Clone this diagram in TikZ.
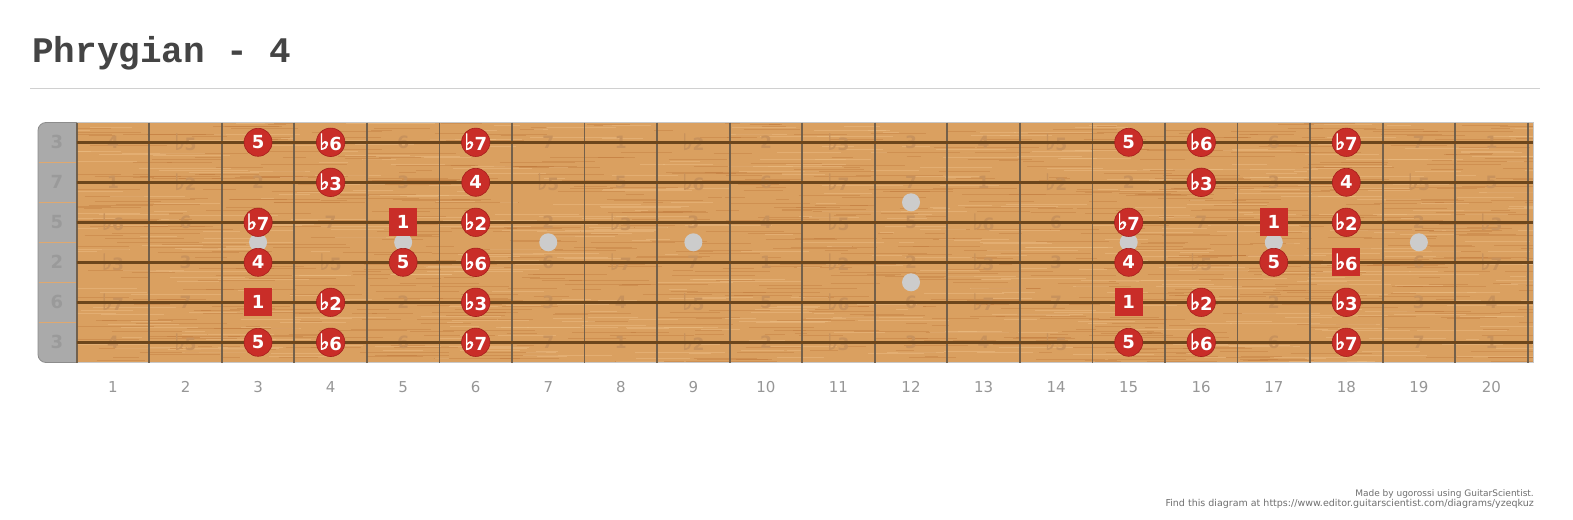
\documentclass[tikz,border=0pt]{standalone}
\usepackage{fontspec}
\setmonofont{Liberation Mono}
\newfontfamily\dejavu{DejaVu Sans}
\newfontfamily\flatfont[FakeBold=2.5]{DejaVu Sans Bold}
\definecolor{wood}{RGB}{218,160,96}
\definecolor{graindark}{RGB}{184,110,48}
\definecolor{grainlight}{RGB}{238,192,136}
\definecolor{stringc}{RGB}{108,70,28}
\definecolor{fretc}{RGB}{105,90,72}
\definecolor{faintc}{RGB}{200,146,92}
\definecolor{notered}{RGB}{201,45,40}
\definecolor{notedark}{RGB}{165,30,28}
\definecolor{inlayc}{RGB}{204,204,204}
\definecolor{nutgray}{RGB}{170,170,170}
\definecolor{nutedge}{RGB}{140,140,140}
\definecolor{nutlabel}{RGB}{154,154,154}
\definecolor{nutdiv}{RGB}{222,168,112}
\definecolor{fretnum}{RGB}{150,150,150}
\definecolor{titlegray}{RGB}{68,68,68}
\definecolor{rulegray}{RGB}{208,208,208}
\definecolor{boardedge}{RGB}{200,200,200}
\definecolor{creditc}{RGB}{110,110,110}
\newcommand\notefont{\dejavu\bfseries\fontsize{18}{18}\selectfont}
\newcommand\fl{\raisebox{1.2pt}{\flatfont\fontsize{22}{22}\selectfont ♭}\kern-0.3pt}
\newcommand\ivname[1]{\ifcase#1 1\or \fl2\or 2\or \fl3\or 3\or 4\or \fl5\or 5\or \fl6\or 6\or \fl7\or 7\fi}
\makeatletter
\newcommand\ifmember[2]{\edef\x@tmp{\noexpand\in@{,#1,}{,#2,}}\x@tmp\ifin@\expandafter\@firstoftwo\else\expandafter\@secondoftwo\fi}
\makeatother
\tikzset{
  notecirc/.style={circle, fill=notered, draw=notedark, line width=0.6, minimum size=28, inner sep=0, text=white, font=\notefont},
  notesq/.style={rectangle, fill=notered, minimum size=28, inner sep=0, text=white, font=\notefont},
  faint/.style={inner sep=0, text=faintc, font=\dejavu\bfseries\fontsize{17}{17}\selectfont},
  fretline/.style={draw=fretc, line width=1.8, opacity=0.9},
  stringline/.style={draw=stringc, line width=3},
  inlay/.style={circle, fill=inlayc, minimum size=18, inner sep=0},
  nutlab/.style={inner sep=0, text=nutlabel, font=\dejavu\bfseries\fontsize{18}{18}\selectfont},
  fretnumber/.style={inner sep=0, text=fretnum, font=\dejavu\fontsize{15}{15}\selectfont},
  credit/.style={inner sep=0, text=creditc, anchor=base east},
}
\begin{document}
\begin{tikzpicture}[x=1pt,y=-1pt]
\useasboundingbox (0,0) rectangle (1573,519);
% title and rule
\node[anchor=base west, inner sep=0, text=titlegray, font=\ttfamily\bfseries\fontsize{36}{36}\selectfont] (title) at (32,63) {Phrygian - 4};
\coordinate (ruleL) at (30,88);
\coordinate (ruleR) at (1540,88);
\draw[rulegray, line width=1] (ruleL) -- (ruleR);
% nut and board
\path[fill=nutgray, draw=nutedge, line width=0.8, rounded corners=8] (38,122.5) rectangle (90,362.5);
\fill[wood] (76.7,122.5) rectangle (1533,362.5);
\begin{scope}
  \clip (76.7,122.5) rectangle (1533,362.5);
  \pgfmathsetseed{4711}
  \foreach \i in {1,...,900}{
    \pgfmathsetmacro\gx{40+rnd*1500}
    \pgfmathsetmacro\gy{122+rnd*241}
    \pgfmathsetmacro\gl{12+rnd*80}
    \draw[graindark, line width=0.7, opacity=0.3] (\gx,\gy) -- ++(\gl,0);
  }
  \foreach \i in {1,...,600}{
    \pgfmathsetmacro\gx{40+rnd*1500}
    \pgfmathsetmacro\gy{122+rnd*241}
    \pgfmathsetmacro\gl{12+rnd*80}
    \draw[grainlight, line width=0.8, opacity=0.45] (\gx,\gy) -- ++(\gl,0);
  }
\end{scope}
\draw[boardedge, line width=1] (76.7,122.5) -- (1533,122.5) -- (1533,362.5) -- (76.7,362.5);
% nut dividers and labels
\foreach \k in {0,...,4}{
  \pgfmathsetmacro\yy{162.3+40*\k}
  \draw[nutdiv, line width=0.8] (39,\yy) -- (76.7,\yy);
}
\foreach \s/\t in {1/3,2/7,3/5,4/2,5/6,6/3}{
  \pgfmathsetmacro\yy{142.3+40*(\s-1)}
  \node[nutlab] (nut-\s) at (57,\yy) {\t};
}
% faint interval labels
\foreach \s/\open/\used in {1/4/{3,4,6,15,16,18}, 2/11/{4,6,16,18}, 3/7/{3,5,6,15,17,18}, 4/2/{3,5,6,15,17,18}, 5/9/{3,4,6,15,16,18}, 6/4/{3,4,6,15,16,18}}{
  \foreach \f in {1,...,20}{
    \ifmember{\f}{\used}{}{%
      \pgfmathtruncatemacro\iv{mod(\open+\f,12)}%
      \pgfmathsetmacro\cx{76.7+72.55*(\f-0.5)}%
      \pgfmathsetmacro\cy{142.3+40*(\s-1)}%
      \node[faint] (f-\s-\f) at (\cx,\cy) {\ivname{\iv}};%
    }
  }
}
% frets
\foreach \n in {0,...,20}{
  \pgfmathsetmacro\xx{76.7+72.55*\n}
  \draw[fretline] (\xx,122.5) -- (\xx,362.5);
}
% strings
\foreach \s in {1,...,6}{
  \pgfmathsetmacro\yy{142.3+40*(\s-1)}
  \draw[stringline] (76.7,\yy) -- (1533,\yy);
}
% inlays
\foreach \n in {3,5,7,9,15,17,19}{
  \pgfmathsetmacro\xx{76.7+72.55*(\n-0.5)}
  \node[inlay] (inlay-\n) at (\xx,242.3) {};
}
\node[inlay] (inlay-12a) at ({76.7+72.55*11.5},202.3) {};
\node[inlay] (inlay-12b) at ({76.7+72.55*11.5},282.3) {};
% notes
\foreach \s/\f/\t in {1/3/5, 1/4/\fl6, 1/6/\fl7, 1/15/5, 1/16/\fl6, 1/18/\fl7,
  2/4/\fl3, 2/6/4, 2/16/\fl3, 2/18/4,
  3/3/\fl7, 3/6/\fl2, 3/15/\fl7, 3/18/\fl2,
  4/3/4, 4/5/5, 4/6/\fl6, 4/15/4, 4/17/5,
  5/4/\fl2, 5/6/\fl3, 5/16/\fl2, 5/18/\fl3,
  6/3/5, 6/4/\fl6, 6/6/\fl7, 6/15/5, 6/16/\fl6, 6/18/\fl7}{
  \pgfmathsetmacro\cx{76.7+72.55*(\f-0.5)}
  \pgfmathsetmacro\cy{142.3+40*(\s-1)}
  \node[notecirc] (n-\s-\f) at (\cx,\cy) {\t};
}
\foreach \s/\f/\t in {3/5/1, 3/17/1, 4/18/\fl6, 5/3/1, 5/15/1}{
  \pgfmathsetmacro\cx{76.7+72.55*(\f-0.5)}
  \pgfmathsetmacro\cy{142.3+40*(\s-1)}
  \node[notesq] (n-\s-\f) at (\cx,\cy) {\t};
}
% fret numbers
\foreach \n in {1,...,20}{
  \pgfmathsetmacro\cx{76.7+72.55*(\n-0.5)}
  \node[fretnumber] (fn-\n) at (\cx,387) {\n};
}
% credits
\node[credit, font=\dejavu\fontsize{9}{9}\selectfont] (credit1) at (1534,496) {Made by ugorossi using GuitarScientist.};
\node[credit, font=\dejavu\fontsize{9.5}{9.5}\selectfont] (credit2) at (1534,506) {Find this diagram at https://www.editor.guitarscientist.com/diagrams/yzeqkuz};
\end{tikzpicture}
\end{document}
